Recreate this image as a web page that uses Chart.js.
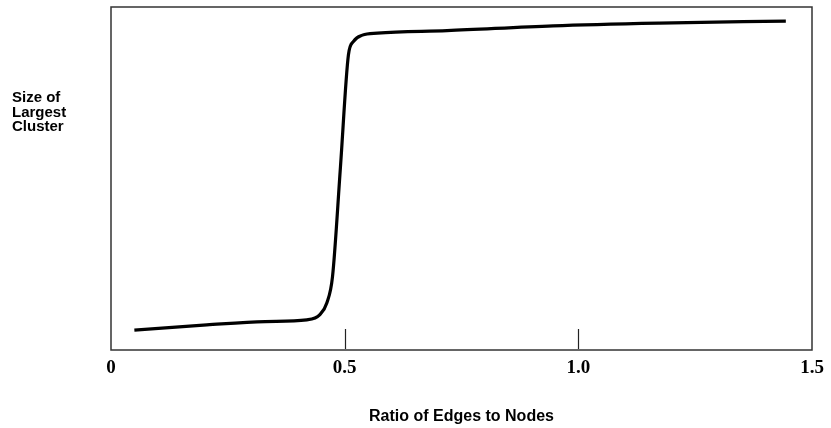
<!DOCTYPE html>
<html>
<head>
<meta charset="utf-8">
<script src="https://cdn.jsdelivr.net/npm/chart.js@4"></script>
<style>
  html, body { margin: 0; padding: 0; background: #fff; }
  #wrap { position: relative; width: 831px; height: 428px; }
</style>
</head>
<body>
<div id="wrap"><canvas id="chart" width="831" height="428"></canvas></div>
<script>
// values
const ratio = [0.050, 0.205, 0.330, 0.419, 0.447, 0.462, 0.474, 0.491, 0.508, 0.519, 0.538, 0.570, 0.719, 0.946, 1.173, 1.444];
const clusterSize = [5.8, 7.3, 8.3, 8.8, 10.3, 13.8, 21.4, 53.4, 86.0, 90.0, 91.8, 92.4, 93.1, 94.5, 95.3, 95.9];
const tickValues = [0, 0.5, 1.0, 1.5];
const tickLabels = ['0', '0.5', '1.0', '1.5'];
const markedTicks = [0.5, 1.0];
const yTitleLines = ['Size of', 'Largest', 'Cluster'];
const xTitle = 'Ratio of Edges to Nodes';

const points = ratio.map((x, i) => ({ x: x, y: clusterSize[i] }));

// box round the plot, short inner ticks, and the horizontal y title
const decorations = {
    id: 'decorations',
    afterDraw(chart) {
        const ctx = chart.ctx;
        const area = chart.chartArea;
        const xs = chart.scales.x;

        ctx.save();
        ctx.strokeStyle = '#333';
        ctx.lineWidth = 1.5;
        ctx.strokeRect(area.left, area.top, area.right - area.left, area.bottom - area.top);

        ctx.lineWidth = 1.2;
        ctx.strokeStyle = '#222';
        markedTicks.forEach(v => {
            const px = Math.round(xs.getPixelForValue(v)) + 0.5;
            ctx.beginPath();
            ctx.moveTo(px, area.bottom - 1);
            ctx.lineTo(px, area.bottom - 21);
            ctx.stroke();
        });

        ctx.fillStyle = '#000';
        ctx.font = 'bold 15px "Liberation Sans", Arial, sans-serif';
        ctx.textBaseline = 'middle';
        ctx.textAlign = 'left';
        yTitleLines.forEach((line, i) => {
            ctx.fillText(line, 12, 98 + i * 14.5);
        });
        ctx.restore();
    }
};

new Chart(document.getElementById('chart'), {
    type: 'line',
    data: {
        datasets: [{
            data: points,
            borderColor: '#000',
            borderWidth: 3.2,
            pointRadius: 0,
            fill: false,
            cubicInterpolationMode: 'monotone'
        }]
    },
    options: {
        responsive: false,
        animation: false,
        layout: { padding: { left: 111, right: 19, top: 7, bottom: 0 } },
        plugins: {
            legend: { display: false },
            tooltip: { enabled: false }
        },
        scales: {
            x: {
                type: 'linear',
                min: 0,
                max: 1.5,
                afterBuildTicks: scale => {
                    scale.ticks = tickValues.map(v => ({ value: v }));
                },
                afterFit: scale => { scale.height = 78; },
                grid: { display: false, drawTicks: false },
                border: { display: false },
                ticks: {
                    color: '#000',
                    padding: 7,
                    maxRotation: 0,
                    font: { family: '"Liberation Serif", "Times New Roman", serif', size: 19, weight: 'bold' },
                    callback: (value) => {
                        const i = tickValues.indexOf(value);
                        return i >= 0 ? tickLabels[i] : '';
                    }
                },
                title: {
                    display: true,
                    text: xTitle,
                    color: '#000',
                    font: { family: '"Liberation Sans", Arial, sans-serif', size: 16, weight: 'bold' },
                    padding: { top: 0, bottom: 2 }
                }
            },
            y: {
                type: 'linear',
                min: 0,
                max: 100,
                afterFit: scale => { scale.width = 0; },
                grid: { display: false, drawTicks: false },
                border: { display: false },
                ticks: { display: false }
            }
        }
    },
    plugins: [decorations]
});
</script>
</body>
</html>
